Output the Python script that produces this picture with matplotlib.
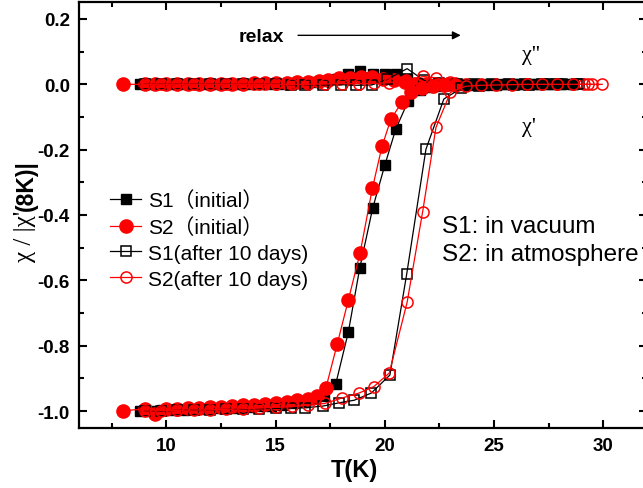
import matplotlib
matplotlib.use("Agg")
import matplotlib.pyplot as plt
from matplotlib.ticker import MultipleLocator

# --- data ---
# S1 initial (filled squares), chi' branch
t_s1_re = [8.8, 9.3, 9.8, 10.3, 10.8, 11.3, 11.8, 12.3, 12.8, 13.3, 13.8, 14.3, 14.8, 15.3,
           15.8, 16.3, 16.8, 17.2, 17.75, 18.33, 18.85, 19.44, 20.0, 20.5, 21.07, 21.6, 22.1,
           22.6, 23.1, 23.6, 24.1, 24.6, 25.1, 25.6, 26.1, 26.6, 27.1, 27.6, 28.1, 28.6]
s1_re = [-1.0, -1.0, -0.998, -0.997, -0.996, -0.995, -0.994, -0.992, -0.991, -0.99, -0.988,
         -0.986, -0.984, -0.981, -0.977, -0.972, -0.964, -0.955, -0.918, -0.758, -0.563, -0.38,
         -0.247, -0.137, -0.051, -0.018, -0.008, -0.005, -0.003, -0.002, -0.002, -0.001,
         -0.001, 0.0, 0.0, 0.0, 0.0, 0.0, 0.0, 0.0]
# S1 initial, chi'' branch
t_s1_im = [8.8, 9.3, 9.8, 10.3, 10.8, 11.3, 11.8, 12.3, 12.8, 13.3, 13.8, 14.3, 14.8, 15.3,
           15.8, 16.3, 16.8, 17.3, 17.8, 18.3, 18.85, 19.45, 20.0, 20.5, 21.0, 21.5, 22.0,
           22.5, 23.0, 23.5, 24.0, 24.5, 25.0, 25.5, 26.0, 26.5, 27.0, 27.5, 28.0, 28.6]
s1_im = [0.0, 0.0, 0.0, 0.0, 0.0, 0.0, 0.0, 0.0, 0.0, 0.0, 0.0, 0.001, 0.001, 0.002, 0.003,
         0.004, 0.006, 0.01, 0.016, 0.031, 0.04, 0.031, 0.031, 0.032, 0.015, 0.004, 0.001,
         0.0, 0.0, 0.0, 0.0, 0.0, 0.0, 0.0, 0.0, 0.0, 0.0, 0.0, 0.0, 0.0]

# S2 initial (filled circles)
t_s2_re = [8.0, 9.0, 9.5, 10.0, 10.5, 11.0, 11.5, 12.0, 12.5, 13.0, 13.5, 14.0, 14.5, 15.0,
           15.5, 16.0, 16.5, 16.9, 17.3, 17.82, 18.33, 18.87, 19.43, 19.87, 20.28, 20.78,
           21.2, 21.7, 22.2, 22.7, 23.2]
s2_re = [-1.0, -0.993, -1.008, -0.995, -0.993, -0.991, -0.99, -0.988, -0.987, -0.985, -0.983,
         -0.981, -0.979, -0.976, -0.973, -0.967, -0.962, -0.955, -0.93, -0.795, -0.66, -0.515,
         -0.318, -0.19, -0.106, -0.055, -0.025, -0.012, -0.006, -0.003, -0.002]
t_s2_im = [8.0, 9.0, 9.5, 10.0, 10.5, 11.0, 11.5, 12.0, 12.5, 13.0, 13.5, 14.0, 14.5, 15.0,
           15.5, 16.0, 16.5, 17.0, 17.4, 17.9, 18.4, 18.9, 19.4, 19.9, 20.4, 20.9, 21.4, 21.9,
           22.4, 22.9, 23.2]
s2_im = [0.0, 0.0, 0.0, 0.0, 0.0, 0.0, 0.001, 0.001, 0.001, 0.002, 0.002, 0.003, 0.003, 0.004,
         0.005, 0.006, 0.007, 0.01, 0.012, 0.018, 0.02, 0.021, 0.022, 0.017, 0.012, 0.007,
         0.001, 0.0, 0.0, 0.0, 0.0]

# S1 after 10 days (open squares)
t_s1a_re = [9.0, 9.75, 10.5, 11.25, 12.0, 12.75, 13.5, 14.25, 15.0, 15.7, 16.35, 17.15, 17.9,
            18.6, 19.38, 20.23, 21.0, 21.88, 22.7, 23.5, 24.3, 25.1, 25.9, 26.6, 27.4, 28.1,
            28.8]
s1a_re = [-1.0, -1.0, -0.998, -0.997, -0.996, -0.995, -0.994, -0.993, -0.992, -0.991, -0.99,
          -0.985, -0.975, -0.967, -0.945, -0.89, -0.581, -0.199, -0.045, -0.012, -0.005,
          -0.003, -0.002, -0.001, 0.0, 0.0, 0.0]
t_s1a_im = [9.0, 9.75, 10.5, 11.25, 12.0, 12.75, 13.5, 14.25, 15.0, 15.7, 16.35, 17.15, 18.0,
            18.7, 19.4, 20.1, 21.02, 21.8, 22.5, 23.3, 24.1, 24.9, 25.7, 26.4, 27.2, 27.9, 28.9]
s1a_im = [0.0, 0.0, 0.0, 0.0, 0.0, 0.0, 0.0, 0.0, 0.0, -0.001, -0.001, -0.002, -0.001, -0.003,
          -0.002, 0.015, 0.048, 0.012, 0.003, 0.001, 0.0, 0.0, 0.0, 0.0, 0.0, 0.0, 0.0]

# S2 after 10 days (open circles)
t_s2a_re = [9.0, 9.75, 10.5, 11.25, 12.0, 12.75, 13.5, 14.25, 15.0, 15.75, 16.5, 17.24,
            18.05, 18.82, 19.5, 20.2, 21.02, 21.73, 22.34, 23.0, 23.7, 24.4, 25.1, 25.8, 26.5,
            27.2, 27.9, 28.6, 29.3, 29.95]
s2a_re = [-1.0, -0.999, -0.998, -0.997, -0.996, -0.995, -0.993, -0.991, -0.989, -0.986,
          -0.982, -0.977, -0.96, -0.945, -0.925, -0.884, -0.667, -0.39, -0.132, -0.025,
          -0.006, -0.003, -0.002, -0.001, 0.0, 0.0, 0.0, 0.0, 0.0, 0.0]
t_s2a_im = [9.0, 9.75, 10.5, 11.25, 12.0, 12.75, 13.5, 14.25, 15.0, 15.75, 16.5, 17.24,
            18.05, 18.82, 19.5, 20.2, 20.95, 21.76, 22.34, 23.0, 23.7, 24.4, 25.1, 25.8, 26.5,
            27.2, 27.9, 28.6, 29.1, 29.5]
s2a_im = [0.0, 0.0, 0.0, 0.0, 0.0, 0.0, 0.0, 0.0, 0.0, 0.0, 0.0, 0.001, 0.002, 0.002, 0.003,
          0.005, 0.012, 0.024, 0.02, 0.007, 0.002, 0.0, 0.0, 0.0, 0.0, 0.0, 0.0, 0.0, 0.0, 0.0]

labels = ["S1\uff08initial\uff09", "S2\uff08initial\uff09", "S1(after 10 days)", "S2(after 10 days)"]

sans = ["Liberation Sans", "Noto Sans CJK SC", "DejaVu Sans"]
plt.rcParams['font.family'] = sans

fig = plt.figure(figsize=(6.43, 4.89), dpi=100)
ax = fig.add_axes([79 / 643, 60 / 489, 568 / 643, 426 / 489])

# series styles
st1 = dict(color='black', lw=0.9, marker='s', ms=7, mfc='black', mec='black')
st2 = dict(color='red', lw=0.9, marker='o', ms=9.5, mfc='red', mec='red')
st3 = dict(color='black', lw=0.9, marker='s', ms=7, mfc='none', mec='black', mew=1.1)
st4 = dict(color='red', lw=0.9, marker='o', ms=8, mfc='none', mec='red', mew=1.1)

ax.plot(t_s1_im, s1_im, **st1)
ax.plot(t_s2_im, s2_im, **st2)
ax.plot(t_s1a_im, s1a_im, **st3)
ax.plot(t_s2a_im, s2a_im, **st4)
h1, = ax.plot(t_s1_re, s1_re, label=labels[0], **st1)
h2, = ax.plot(t_s2_re, s2_re, label=labels[1], **st2)
h3, = ax.plot(t_s1a_re, s1a_re, label=labels[2], **st3)
h4, = ax.plot(t_s2a_re, s2a_re, label=labels[3], **st4)

ax.set_xlim(6, 32)
ax.set_ylim(-1.052, 0.252)
ax.xaxis.set_major_locator(MultipleLocator(5))
ax.xaxis.set_minor_locator(MultipleLocator(2.5))
ax.yaxis.set_major_locator(MultipleLocator(0.2))
ax.yaxis.set_minor_locator(MultipleLocator(0.1))
ax.yaxis.set_major_formatter(plt.FuncFormatter(lambda v, p: "%.1f" % v))
ax.tick_params(which='both', direction='in', top=True, right=True, width=1.5)
ax.tick_params(which='major', length=6, labelsize=13.5, pad=6.5)
ax.tick_params(which='minor', length=3.5)
for lab in ax.get_xticklabels() + ax.get_yticklabels():
    lab.set_fontweight('bold')
for sp in ax.spines.values():
    sp.set_linewidth(1.6)

ax.set_xlabel("T(K)", fontsize=17, fontweight='bold', labelpad=3)
ax.xaxis.set_label_coords(0.485, -0.07)

leg = ax.legend(handles=[h1, h2, h3, h4], loc='upper left', bbox_to_anchor=(0.055, 0.558),
                frameon=False, fontsize=15, borderpad=0, borderaxespad=0,
                handlelength=1.5, handletextpad=0.3, labelspacing=0.33)

ax.text(22.6, -0.434, "S1: in vacuum", fontsize=17.5, va='center', ha='left')
ax.text(22.6, -0.52, "S2: in atmosphere", fontsize=17.5, va='center', ha='left')
ax.text(13.3, 0.147, "relax", fontsize=14, fontweight='bold', va='center', ha='left')
ax.annotate("", xy=(23.6, 0.15), xytext=(15.9, 0.15),
            arrowprops=dict(arrowstyle='-|>', color='black', lw=1, mutation_scale=12))
ax.text(26.3, 0.092, "\u03c7''", fontsize=16, family='Liberation Serif', va='center', ha='left')
ax.text(26.3, -0.128, "\u03c7'", fontsize=16, family='Liberation Serif', va='center', ha='left')

# y label in two pieces: serif chi part and bold sans part
yl1 = fig.text(25 / 643, 1 - 262 / 489, "\u03c7 / |\u03c7'", rotation=90, fontsize=18,
               family='Liberation Serif', ha='center', va='bottom')
fig.canvas.draw()
bb = yl1.get_window_extent()
top = bb.y1 / fig.bbox.height
fig.text(26 / 643, top, "(8K)|", rotation=90, fontsize=16.5, fontweight='bold',
         ha='center', va='bottom')

fig.savefig("out.png", dpi=100)
